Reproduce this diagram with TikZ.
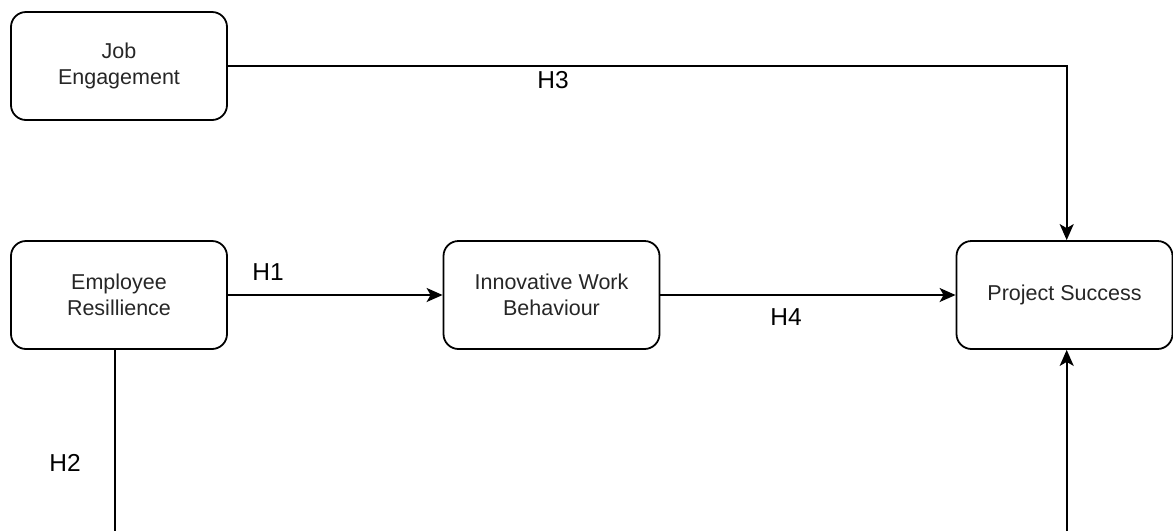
\documentclass[tikz,border=0pt]{standalone}
\usepackage{fontspec}
\setmainfont{Liberation Sans}
\usetikzlibrary{arrows.meta}
\begin{document}
\begin{tikzpicture}[x=1pt,y=-1pt,
  box/.style={draw=black, line width=1.8pt, rounded corners=15pt, minimum width=216pt, minimum height=108pt, align=center, inner sep=0pt, font=\fontsize{21.5}{26}\selectfont, text=black!85},
  lbl/.style={font=\fontsize{24.5}{28}\selectfont, text=black, inner sep=0pt},
  conn/.style={line width=1.8pt, draw=black},
  arr/.style={conn, -{Stealth[length=16pt,width=14pt,inset=4pt]}}]
\useasboundingbox (0,0) rectangle (1173,531);
\node[box] (je) at (119,66) {Job\\Engagement};
\node[box] (er) at (119,295) {Employee\\Resillience};
\node[box] (iwb) at (551.5,295) {Innovative Work\\Behaviour};
\node[box] (ps) at (1064.5,295) {Project Success};
\coordinate (tr) at (1066.7,66);
\coordinate (bl) at (115,531);
\coordinate (br) at (1066.7,531);
\draw[arr] (je.east) -- (tr) -- (ps.north -| tr);
\draw[arr] (er.east) -- (iwb.west);
\draw[arr] (iwb.east) -- (ps.west);
\draw[conn] (er.south -| bl) -- (bl);
\draw[arr] (br) -- (ps.south -| br);
\node[lbl] (h1) at (268,272) {H1};
\node[lbl] (h2) at (65,463) {H2};
\node[lbl] (h3) at (553,80) {H3};
\node[lbl] (h4) at (786,317) {H4};
\end{tikzpicture}
\end{document}
